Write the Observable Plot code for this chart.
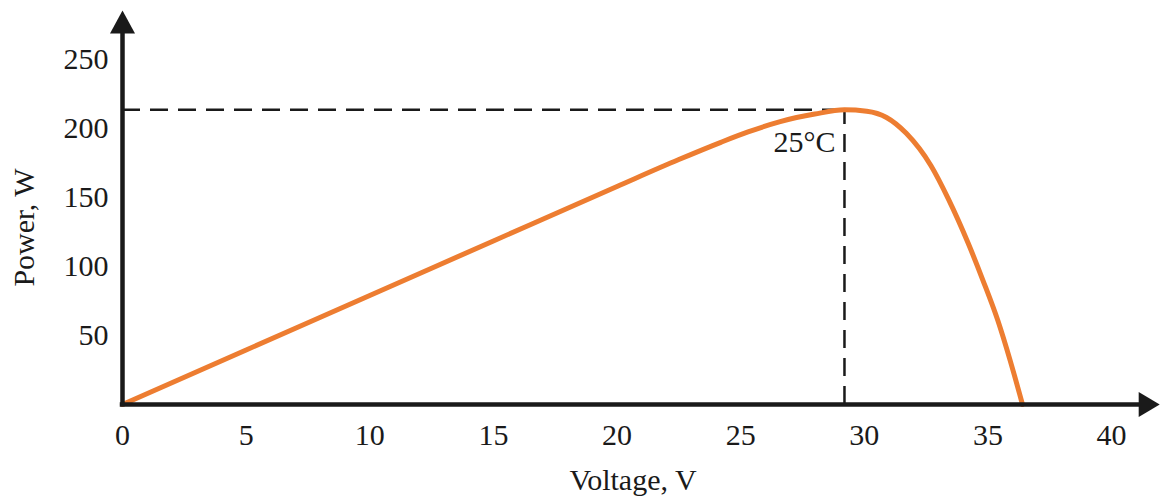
<!DOCTYPE html>
<html>
<head>
<meta charset="utf-8">
<script src="https://cdn.jsdelivr.net/npm/d3@7"></script>
<script src="https://cdn.jsdelivr.net/npm/@observablehq/plot@0.6"></script>
<style>
  html, body { margin: 0; padding: 0; background: #fff; }
  #chart { width: 1161px; height: 497px; }
</style>
</head>
<body>
<div id="chart"></div>
<script>
// Data (P-V curve of a PV module at 25°C)
const voltage = [0, 5, 10, 15, 20, 22.5, 24.2, 25.3, 26.6, 28, 29.2, 30.1, 30.9, 31.7, 32.7, 33.4, 34.2, 34.8, 35.4, 35.9, 36.4];
const power   = [0, 39.5, 79, 118.5, 158, 177.5, 190, 197.5, 205, 210.5, 213.5, 212.5, 208, 196.5, 173, 149, 117, 90, 61, 32, 0];
const xTicks = [0, 5, 10, 15, 20, 25, 30, 35, 40];
const yTicks = [50, 100, 150, 200, 250];
const mppVoltage = 29.2;
const mppPower = 213.5;
const curveLabel = "25°C";
const xLabel = "Voltage, V";
const yLabel = "Power, W";

// axis extents (for arrows)
const xAxisTip = 41.95;
const yAxisTip = 285.5;

const data = voltage.map((v, i) => ({v, p: power[i]}));

const ink = "#1a1a1a";
const orange = "#ED7D31";

const arrowUp = {
  draw(ctx) { ctx.moveTo(0, 0); ctx.lineTo(-12.5, 23); ctx.lineTo(12.5, 23); ctx.closePath(); }
};
const arrowRight = {
  draw(ctx) { ctx.moveTo(0, 0); ctx.lineTo(-21, -12.5); ctx.lineTo(-21, 12.5); ctx.closePath(); }
};

const chart = Plot.plot({
  width: 1161,
  height: 497,
  marginLeft: 122,
  marginRight: 50,
  marginTop: 59,
  marginBottom: 93,
  style: {
    fontFamily: "'Liberation Serif', 'Times New Roman', serif",
    fontSize: "30px",
    color: ink,
    background: "#fff",
    overflow: "visible"
  },
  x: {domain: [0, 40], ticks: xTicks, tickSize: 0, tickPadding: 19, label: null},
  y: {domain: [0, 250], ticks: yTicks, tickSize: 0, tickPadding: 14, label: null},
  marks: [
    Plot.axisX({ticks: xTicks, tickSize: 0, tickPadding: 19, label: null, fill: ink}),
    Plot.axisY({ticks: yTicks, tickSize: 0, tickPadding: 14, label: null, fill: ink}),
    // dashed guide lines to the maximum power point
    Plot.ruleY([mppPower], {x1: 0, x2: mppVoltage, stroke: ink, strokeWidth: 2.5, strokeDasharray: "18,10"}),
    Plot.ruleX([mppVoltage], {y1: 0, y2: mppPower, stroke: ink, strokeWidth: 2.5, strokeDasharray: "18,10"}),
    // P-V curve
    Plot.line(data, {x: "v", y: "p", curve: "monotone-x", stroke: orange, strokeWidth: 5, strokeLinejoin: "round"}),
    // axes lines with arrows
    Plot.ruleY([0], {x1: 0, x2: 41.5, stroke: ink, strokeWidth: 4.5, strokeLinecap: "square"}),
    Plot.ruleX([0], {y1: 0, y2: 278, stroke: ink, strokeWidth: 4.5, strokeLinecap: "square"}),
    Plot.dot([{x: 0, y: yAxisTip}], {x: "x", y: "y", symbol: arrowUp, fill: ink, stroke: "none", r: 5}),
    Plot.dot([{x: xAxisTip, y: 0}], {x: "x", y: "y", symbol: arrowRight, fill: ink, stroke: "none", r: 5}),
    // labels
    Plot.text([curveLabel], {x: () => mppVoltage, y: () => mppPower, text: d => d, textAnchor: "end", lineAnchor: "middle", dx: -9, dy: 33, fill: ink}),
    Plot.text([xLabel], {frameAnchor: "bottom", text: d => d, textAnchor: "middle", lineAnchor: "middle", dx: 16, dy: 76, fill: ink}),
    Plot.text([yLabel], {frameAnchor: "left", text: d => d, textAnchor: "middle", lineAnchor: "middle", rotate: -90, dx: -98.6, dy: -4.5, fill: ink})
  ]
});

document.getElementById("chart").appendChild(chart);
</script>
</body>
</html>
